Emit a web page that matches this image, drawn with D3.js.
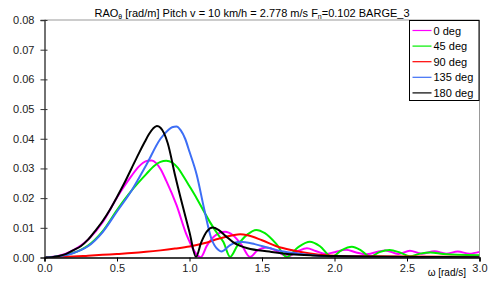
<!DOCTYPE html>
<html>
<head>
<meta charset="utf-8">
<script src="https://cdn.jsdelivr.net/npm/d3@7"></script>
<style>
body { margin: 0; background: #fff; }
text { font-family: "Liberation Sans", Arial, sans-serif; }
</style>
</head>
<body>
<div id="chart"></div>
<script>
// data: [omega, RAO]
var deg0 = [[0,0],[0.1,0.0006],[0.2,0.0025],[0.25,0.004],[0.3,0.006],[0.4,0.0118],[0.5,0.0202],[0.55,0.024],[0.6,0.0275],[0.65,0.0306],[0.68,0.0319],[0.71,0.0326],[0.74,0.0327],[0.77,0.0318],[0.8,0.0298],[0.84,0.0258],[0.91,0.0177],[0.98,0.0076],[1.077,0.0001],[1.12,0.004],[1.18,0.0075],[1.245,0.0087],[1.3,0.0075],[1.36,0.0042],[1.417,0.0002],[1.47,0.0025],[1.53,0.0034],[1.6,0.0022],[1.68,0.0004],[1.75,0.0022],[1.81,0.0031],[1.87,0.0022],[1.94,0.0012],[2.0,0.0018],[2.08,0.0026],[2.15,0.0017],[2.22,0.0011],[2.35,0.0024],[2.44,0.0012],[2.52,0.0023],[2.6,0.0013],[2.69,0.0021],[2.77,0.0013],[2.85,0.002],[2.93,0.0013],[3.0,0.0019]];
var deg45 = [[0,0],[0.1,0.0004],[0.2,0.0016],[0.25,0.0026],[0.3,0.004],[0.4,0.0088],[0.5,0.016],[0.6,0.0225],[0.7,0.028],[0.76,0.031],[0.8,0.0322],[0.84,0.0326],[0.88,0.032],[0.92,0.0302],[0.96,0.0272],[1.0,0.024],[1.05,0.0199],[1.1,0.0155],[1.14,0.012],[1.2,0.0075],[1.233,0.0053],[1.28,0.0002],[1.33,0.004],[1.4,0.0078],[1.46,0.0093],[1.52,0.0082],[1.6,0.0045],[1.67,0.0002],[1.75,0.0035],[1.83,0.0053],[1.9,0.0038],[1.98,0.0002],[2.05,0.0025],[2.12,0.0036],[2.18,0.0025],[2.245,0.0003],[2.31,0.0018],[2.38,0.0025],[2.45,0.0017],[2.52,0.0004],[2.59,0.0013],[2.66,0.0017],[2.75,0.0012],[2.85,0.0009],[3.0,0.0008]];
var deg90 = [[0,0],[0.1,0.0001],[0.2,0.0003],[0.3,0.0006],[0.4,0.0009],[0.5,0.0012],[0.6,0.0015],[0.7,0.0019],[0.8,0.0024],[0.9,0.003],[1.0,0.0037],[1.1,0.0048],[1.2,0.0063],[1.3,0.0075],[1.35,0.0078],[1.4,0.0075],[1.5,0.0058],[1.6,0.0038],[1.7,0.0025],[1.8,0.0016],[1.9,0.0009],[2.0,0.0006],[2.2,0.0004],[2.5,0.0003],[3.0,0.0002]];
var deg135 = [[0,0],[0.1,0.0004],[0.2,0.0015],[0.25,0.0025],[0.3,0.0038],[0.4,0.0085],[0.5,0.0155],[0.6,0.0225],[0.7,0.031],[0.8,0.040],[0.85,0.0428],[0.88,0.0439],[0.91,0.0441],[0.94,0.0428],[0.97,0.040],[1.0,0.0356],[1.05,0.0278],[1.1,0.0166],[1.15,0.0065],[1.2,0.0025],[1.22,0.002],[1.28,0.0042],[1.35,0.0053],[1.45,0.0045],[1.55,0.0032],[1.65,0.002],[1.8,0.001],[2.0,0.0003],[2.5,0.0001],[3.0,0]];
var deg180 = [[0,0],[0.05,0.0001],[0.1,0.0005],[0.15,0.0012],[0.2,0.0025],[0.25,0.0038],[0.3,0.006],[0.35,0.009],[0.4,0.0122],[0.45,0.016],[0.5,0.0204],[0.55,0.025],[0.6,0.030],[0.65,0.035],[0.69,0.0388],[0.72,0.0415],[0.75,0.0435],[0.775,0.0443],[0.8,0.0437],[0.825,0.0418],[0.85,0.0385],[0.9,0.0278],[0.95,0.0179],[1.0,0.0085],[1.045,0.0002],[1.08,0.005],[1.12,0.0088],[1.16,0.0101],[1.2,0.0093],[1.25,0.0072],[1.3,0.0052],[1.4,0.0031],[1.55,0.002],[1.7,0.0011],[1.85,0.0007],[2.0,0.0005],[2.2,0.0003],[2.5,0.0002],[3.0,0.0001]];

var seriesNames = ["0 deg", "45 deg", "90 deg", "135 deg", "180 deg"];
var seriesData = [deg0, deg45, deg90, deg135, deg180];
var colors = ["#ff00ff", "#00ee00", "#ff0000", "#3d6ef5", "#000000"];
var xTicks = [0, 0.5, 1.0, 1.5, 2.0, 2.5, 3.0];
var yTicks = [0, 0.01, 0.02, 0.03, 0.04, 0.05, 0.06, 0.07, 0.08];

var W = 490, H = 282;
var margin = {top: 20, right: 10.5, bottom: 24.5, left: 44.5};
var width = W - margin.left - margin.right,
    height = H - margin.top - margin.bottom;

var svg = d3.select("#chart").append("svg")
  .attr("width", W).attr("height", H);

var g = svg.append("g")
  .attr("transform", "translate(" + margin.left + "," + margin.top + ")");

var x = d3.scaleLinear().domain([0, 3]).range([0, width]);
var y = d3.scaleLinear().domain([0, 0.08]).range([height, 0]);

//title
var title = svg.append("text")
  .attr("x", 252).attr("y", 17)
  .attr("text-anchor", "middle")
  .style("font-size", "11px");
title.append("tspan").text("RAO");
title.append("tspan").text("θ").style("font-size", "7px").attr("dy", 2);
title.append("tspan").text(" [rad/m] Pitch v = 10 km/h = 2.778 m/s F").attr("dy", -2);
title.append("tspan").text("n").style("font-size", "7px").attr("dy", 2);
title.append("tspan").text("=0.102 BARGE_3").attr("dy", -2);

//top and right border
g.append("line").attr("x1", 0).attr("x2", width).attr("y1", 0).attr("y2", 0)
  .attr("stroke", "#999").attr("stroke-width", 1);
g.append("line").attr("x1", width).attr("x2", width).attr("y1", 0).attr("y2", height)
  .attr("stroke", "#999").attr("stroke-width", 1);

//curves
var line = d3.line()
  .x(function(d) { return x(d[0]); })
  .y(function(d) { return y(d[1]); })
  .curve(d3.curveMonotoneX);

g.append("clipPath").attr("id", "clip").append("rect")
  .attr("x", 0).attr("y", -2).attr("width", width).attr("height", height + 2);

g.append("g").attr("clip-path", "url(#clip)")
  .selectAll("path")
  .data(seriesData)
  .enter().append("path")
  .attr("d", line)
  .attr("fill", "none")
  .attr("stroke", function(d, i) { return colors[i]; })
  .attr("stroke-width", 2)
  .attr("stroke-linejoin", "round");

//y axis
var yAxis = g.append("g")
  .call(d3.axisLeft(y).tickValues(yTicks).tickFormat(d3.format(".2f")).tickSize(4).tickPadding(6));
yAxis.select(".domain").attr("stroke", "#444").attr("stroke-width", 1.5);
yAxis.selectAll(".tick line").attr("x2", 3).attr("x1", -4).attr("stroke", "#333");
yAxis.selectAll("text").style("font-size", "11px").attr("fill", "#222");

//x axis
var xAxis = g.append("g")
  .attr("transform", "translate(0," + height + ")")
  .call(d3.axisBottom(x).tickValues(xTicks).tickFormat(d3.format(".1f")).tickSize(4).tickPadding(3));
xAxis.select(".domain").attr("stroke", "#000").attr("stroke-width", 1.5);
xAxis.selectAll("text").style("font-size", "11px").attr("fill", "#222");

svg.append("text")
  .attr("x", 466).attr("y", 276)
  .attr("text-anchor", "end")
  .style("font-size", "10px")
  .text("ω [rad/s]");

//legend
var legend = svg.append("g").attr("transform", "translate(409.5,20.5)");
legend.append("rect")
  .attr("width", 69.5).attr("height", 80)
  .attr("fill", "#fff").attr("stroke", "#000").attr("stroke-width", 1);
var item = legend.selectAll(".item")
  .data(seriesNames)
  .enter().append("g")
  .attr("transform", function(d, i) { return "translate(0," + (10 + i * 15.6) + ")"; });
item.append("line")
  .attr("x1", 3).attr("x2", 22).attr("y1", 0).attr("y2", 0)
  .attr("stroke", function(d, i) { return colors[i]; })
  .attr("stroke-width", 1.2);
item.append("text")
  .attr("x", 24).attr("y", 4)
  .style("font-size", "11px")
  .text(function(d) { return d; });
</script>
</body>
</html>
